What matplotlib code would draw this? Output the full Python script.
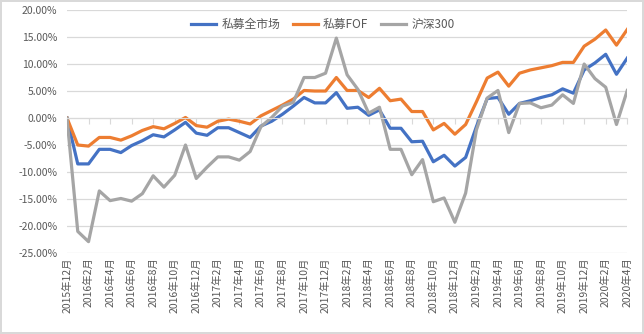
import numpy as np
import matplotlib.pyplot as plt
from matplotlib.ticker import FuncFormatter

plt.rcParams['font.family'] = ['Noto Sans CJK SC', 'DejaVu Sans']

# months 2015-12 .. 2020-04
months = []
y, m = 2015, 12
for i in range(53):
    months.append("{}年{}月".format(y, m))
    m += 1
    if m > 12:
        m = 1
        y += 1

# cumulative returns in %
private_all = [0, -8.5, -8.5, -5.8, -5.8, -6.4, -5.1, -4.2, -3.1, -3.5, -2.2, -0.8, -2.8,
               -3.2, -1.8, -1.8, -2.7, -3.6, -1.5, -0.6, 0.7, 2.2, 3.8, 2.8, 2.8,
               4.7, 1.8, 2.0, 0.5, 1.5, -1.9, -1.9, -4.4, -4.3, -8.1, -6.9, -8.9,
               -7.3, -1.6, 3.6, 3.8, 0.7, 2.7, 3.2, 3.8, 4.3, 5.4, 4.6, 8.9,
               10.2, 11.8, 8.1, 11.1]
private_fof = [0, -5.0, -5.2, -3.6, -3.6, -4.1, -3.3, -2.3, -1.6, -2.0, -1.0, 0.1, -1.4,
               -1.7, -0.6, -0.2, -0.6, -1.1, 0.4, 1.4, 2.4, 3.5, 5.1, 5.0, 5.0,
               7.5, 5.1, 5.1, 3.8, 5.5, 3.2, 3.5, 1.2, 1.2, -2.2, -1.0, -3.0,
               -1.2, 3.0, 7.4, 8.5, 5.9, 8.3, 8.9, 9.3, 9.7, 10.3, 10.3, 13.3,
               14.6, 16.3, 13.5, 16.4]
hs300 = [0, -21.0, -22.9, -13.5, -15.3, -14.9, -15.4, -14.0, -10.7, -12.8, -10.6, -5.0, -11.2,
         -9.1, -7.2, -7.2, -7.8, -6.2, -1.6, 0.1, 2.2, 2.9, 7.5, 7.5, 8.3,
         14.8, 8.0, 5.3, 0.9, 2.0, -5.8, -5.8, -10.5, -7.7, -15.5, -14.8, -19.3,
         -13.9, -2.2, 3.7, 5.1, -2.7, 2.7, 2.8, 1.9, 2.4, 4.3, 2.7, 10.0,
         7.3, 5.7, -1.2, 5.1]

series = [("私募全市场", private_all, '#4472C4'),
          ("私募FOF", private_fof, '#ED7D31'),
          ("沪深300", hs300, '#A5A5A5')]

text_c = '#595959'
grid_c = '#D9D9D9'

fig = plt.figure(figsize=(6.44, 3.34), dpi=100, edgecolor=grid_c, linewidth=1.5)
ax = fig.add_axes([0.104, 0.2425, 0.870, 0.7275])

x = np.arange(len(months))
for name, vals, c in series:
    ax.plot(x, vals, color=c, lw=2.3, label=name, solid_joinstyle='round')

ax.set_xlim(0, len(months) - 1)
ax.set_ylim(-25, 20)
ax.set_yticks(np.arange(-25, 20.1, 5))
ax.yaxis.set_major_formatter(FuncFormatter(lambda v, p: "{:.2f}%".format(v)))
ax.grid(axis='y', color=grid_c, lw=0.9)
ax.set_axisbelow(True)
for s in ['top', 'right', 'left']:
    ax.spines[s].set_visible(False)
ax.spines['bottom'].set_position(('data', 0))
ax.spines['bottom'].set_color(grid_c)
ax.tick_params(axis='y', length=0, pad=7, labelsize=7.5, labelcolor=text_c)

tick_pos = x[::2]
ax.set_xticks(tick_pos)
ax.tick_params(axis='x', length=4, direction='out', color=grid_c, labelbottom=False)

# category labels sit at the bottom of the plot area
ax2 = ax.secondary_xaxis('bottom')
ax2.set_xticks(tick_pos, [months[i] for i in tick_pos], rotation=90)
ax2.tick_params(length=0, pad=3, labelsize=7.5, labelcolor=text_c)
ax2.spines['bottom'].set_visible(False)

leg = ax.legend(loc='center', bbox_to_anchor=(0.457, 0.94), ncol=3, frameon=False,
                fontsize=8.5, handlelength=2.1, columnspacing=1.1, handletextpad=0.45)
for t in leg.get_texts():
    t.set_color(text_c)

fig.savefig('out.png', dpi=100)
